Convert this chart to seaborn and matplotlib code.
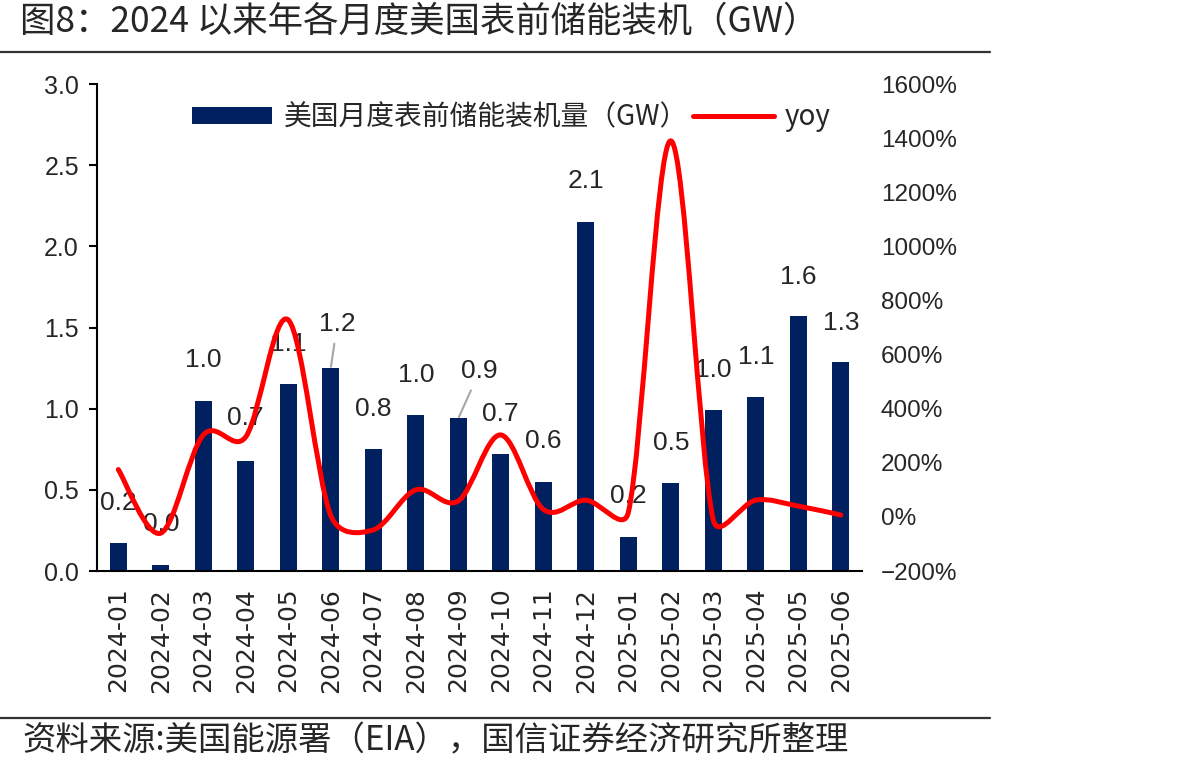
import numpy as np
import matplotlib
matplotlib.use("Agg")
import matplotlib.pyplot as plt
import seaborn as sns
from matplotlib.path import Path
from matplotlib.patches import PathPatch, Patch
from matplotlib.lines import Line2D

# data
months = [
    "2024-01", "2024-02", "2024-03", "2024-04", "2024-05", "2024-06",
    "2024-07", "2024-08", "2024-09", "2024-10", "2024-11", "2024-12",
    "2025-01", "2025-02", "2025-03", "2025-04", "2025-05", "2025-06",
]
gw = [0.17, 0.04, 1.05, 0.68, 1.15, 1.25, 0.75, 0.96, 0.94, 0.72, 0.55, 2.15,
      0.21, 0.54, 0.99, 1.07, 1.57, 1.29]
gw_labels = ["0.2", "0.0", "1.0", "0.7", "1.1", "1.2", "0.8", "1.0", "0.9",
             "0.7", "0.6", "2.1", "0.2", "0.5", "1.0", "1.1", "1.6", "1.3"]
yoy = [175, -60, 303, 296, 728, 5, -48, 100, 59, 303, 28, 62, 16, 1390, -11,
       62, 40, 7]

# label placement (layout only): centre height in GW units, x shift in categories
label_y = [0.42, 0.29, 1.30, 0.94, 1.40, 1.52, 1.00, 1.21, 1.23, 0.97, 0.80,
           2.40, 0.46, 0.79, 1.24, 1.32, 1.81, 1.53]
label_dx = [0, 0, 0, 0, 0, 0.15, 0, 0, 0, 0, 0, 0, 0, 0, 0, 0, 0, 0]
label_dx[8] = 0.5
leader = {5, 8}

NAVY = "#002060"
RED = "#FF0000"
CJK = ["Noto Sans CJK SC", "DejaVu Sans"]
NUM = ["Liberation Sans", "Noto Sans CJK SC", "DejaVu Sans"]


def smooth_path(xs, ys, sx, sy, limit=0.5):
    """Excel-like smoothed line: cubic Bezier through the points, handles
    from neighbouring points (Catmull-Rom), clipped to half the chord."""
    P = np.column_stack([np.asarray(xs, float) * sx, np.asarray(ys, float) * sy])
    n = len(P)
    tang = np.array([(P[min(i + 1, n - 1)] - P[max(i - 1, 0)]) / 6 for i in range(n)])
    verts = [P[0]]
    codes = [Path.MOVETO]
    for i in range(n - 1):
        chord = np.linalg.norm(P[i + 1] - P[i])
        h1, h2 = tang[i].copy(), tang[i + 1].copy()
        for h in (h1, h2):
            ln = np.linalg.norm(h)
            if ln > chord * limit:
                h *= chord * limit / ln
        verts += [P[i] + h1, P[i + 1] - h2, P[i + 1]]
        codes += [Path.CURVE4] * 3
    verts = np.array(verts) / [sx, sy]
    return Path(verts, codes)


sns.set_theme(style="white")
plt.rcParams["font.family"] = NUM

fig = plt.figure(figsize=(11.82, 7.71), dpi=100)
ax = fig.add_axes([0.0821, 0.2594, 0.6472, 0.6316])

sns.barplot(x=months, y=gw, color=NAVY, saturation=1, width=0.4,
            linewidth=0, ax=ax)
ax.set_xlim(-0.5, len(months) - 0.5)
ax.set_ylim(0, 3)
ax.set_yticks(np.arange(0, 3.01, 0.5))
ax.set_yticklabels([f"{v:.1f}" for v in np.arange(0, 3.01, 0.5)], fontsize=18)
ax.set_xticks(range(len(months)))
ax.set_xticklabels(months, rotation=90, fontsize=18, family="DejaVu Sans")
ax.set_xticks(np.arange(-0.5, len(months), 1), minor=True)
ax.tick_params(axis="x", which="major", length=0, pad=12)
ax.tick_params(axis="x", which="minor", length=6, width=1.5, color="black",
               direction="out")
ax.tick_params(axis="y", length=6, width=1.5, color="black", direction="out",
               pad=7, left=True)
ax.set_xlabel("")
ax.set_ylabel("")
for side in ["top", "right"]:
    ax.spines[side].set_visible(False)
for side in ["left", "bottom"]:
    ax.spines[side].set_color("black")
    ax.spines[side].set_linewidth(1.5)

# data labels
for i, lab in enumerate(gw_labels):
    if i in leader:
        ax.annotate(lab, xy=(i, gw[i]), xytext=(i + label_dx[i], label_y[i]),
                    textcoords="data", ha="center", va="center", fontsize=19,
                    arrowprops=dict(arrowstyle="-", color="#A6A6A6", lw=1.5,
                                    shrinkA=3, shrinkB=1))
    else:
        ax.text(i + label_dx[i], label_y[i], lab, ha="center", va="center",
                fontsize=19)

# yoy on the right axis
ax2 = ax.twinx()
ax2.set_ylim(-200, 1600)
ticks = np.arange(-200, 1601, 200)
ax2.set_yticks(ticks)
ax2.set_yticklabels([f"{t}%".replace("-", "\u2212") for t in ticks], fontsize=17.5)
ax2.tick_params(axis="y", length=0, pad=13.5, right=True)
for side in ax2.spines:
    ax2.spines[side].set_visible(False)
ax2.grid(False)
ax.grid(False)

bbox = ax.get_position()
W, H = fig.get_size_inches() * fig.dpi
sx = bbox.width * W / len(months)
sy = bbox.height * H / 1800
path = smooth_path(range(len(months)), yoy, sx, sy)
ax2.add_patch(PathPatch(path, facecolor="none", edgecolor=RED, lw=3.6,
                        capstyle="round", joinstyle="round",
                        transform=ax2.transData))

handles = [Patch(facecolor=NAVY, edgecolor="none"),
           Line2D([], [], color=RED, lw=3.6, solid_capstyle="round")]
ax2.legend(handles, ["美国月度表前储能装机量（GW）", "yoy"], ncol=2,
           loc="center left", bbox_to_anchor=(0.124, 0.932), frameon=False,
           handlelength=2.9, handleheight=0.55, handletextpad=0.4,
           columnspacing=0.2, borderaxespad=0, borderpad=0,
           prop={"family": CJK, "size": 20})

# title, rules and source
fig.text(0.017, 0.9715, "图8：2024 以来年各月度美国表前储能装机（GW）",
         ha="left", va="center", fontsize=25.5, family=CJK)
fig.add_artist(Line2D([0, 0.8376], [0.9326, 0.9326], transform=fig.transFigure,
                      color="#333333", lw=1.6))
fig.add_artist(Line2D([0, 0.8376], [0.0687, 0.0687], transform=fig.transFigure,
                      color="#333333", lw=1.6))
fig.text(0.0186, 0.0389, "资料来源:美国能源署（EIA），国信证券经济研究所整理",
         ha="left", va="center", fontsize=24, family=CJK)

fig.savefig("out.png", dpi=100, facecolor="white")
